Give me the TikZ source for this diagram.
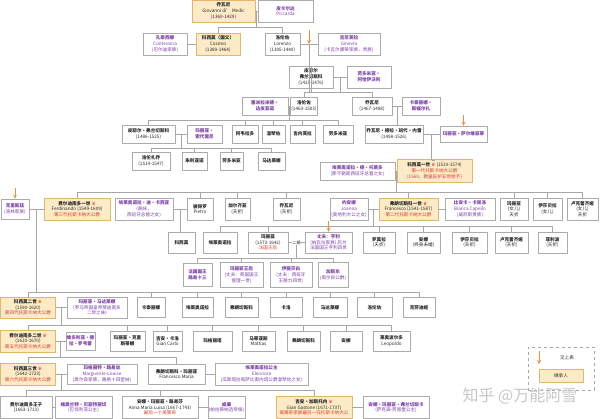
\documentclass[tikz,border=0pt]{standalone}
\usepackage{fontspec}
\setmainfont{Noto Sans CJK SC}
\newfontfamily\symfont{DejaVu Sans}
\usetikzlibrary{calc}
\definecolor{boxgray}{HTML}{ABABAB}
\definecolor{linegray}{HTML}{A6A6A6}
\definecolor{heirfill}{HTML}{FCEBC6}
\definecolor{heirdraw}{HTML}{E2B66E}
\definecolor{spouse}{HTML}{7B3FA8}
\definecolor{medred}{HTML}{E53A2B}
\definecolor{seeorange}{HTML}{E8913A}
\newcommand{\medcrown}{\textcolor{medred}{\symfont ♛}}
\newcommand{\rd}[1]{\textcolor{medred}{#1}}
\begin{document}
\begin{tikzpicture}[x=1pt,y=-1pt,line join=round,>=stealth,
	box/.style={draw=boxgray,fill=white,align=center,inner sep=0.8pt,text=black!85,line width=0.5pt,
		font=\fontsize{4.6}{5.6}\selectfont},
	heir/.style={box,fill=heirfill,draw=heirdraw},
	wife/.style={box,text=spouse},
	wh/.style 2 args={minimum width=#1,minimum height=#2},
	link/.style={draw=linegray,line width=0.5pt},
	see/.style={->,draw=seeorange,line width=0.8pt}]
	\useasboundingbox (0,0) rectangle (600,419);
	% generation 1-4
	\node[heir,wh={63}{22}] (g1) at (223.5,11) {{\bfseries 乔瓦尼}\\Giovanni di' Medic\\(1360-1429)};
	\node[wife,wh={55}{22}] (p1) at (285.5,11) {{\bfseries 皮卡尔达}\\Piccarda};
	\node[wife,wh={44}{22}] (c0) at (165,44) {{\bfseries 孔泰西娜}\\Contessina\\(巴尔迪家族)};
	\node[heir,wh={44}{22}] (co) at (218,44) {{\bfseries 科西莫（国父）}\\Cosimo\\(1389-1464)};
	\node[box,wh={35}{22}] (lo) at (282.5,44) {{\bfseries 洛伦佐}\\Lorenzo\\(1395-1440)};
	\node[wife,wh={62}{22}] (gn) at (349,44) {{\bfseries 吉尼芙拉}\\Ginevra\\(卡瓦尔康蒂家族，贵族)};
	\node[box,wh={44}{22}] (pf) at (311,77) {{\bfseries 皮耶尔}\\{\bfseries 弗兰切斯科}\\(1415-1476)};
	\node[wife,wh={44}{22}] (ld) at (369,77) {{\bfseries 劳多米亚·}\\{\bfseries 阿恰伊沃利}};
	\node[wife,wh={46}{18}] (sm) at (265,106) {{\bfseries 塞米拉米德·}\\{\bfseries 达皮亚诺}};
	\node[box,wh={26}{18}] (lo2) at (304,106) {{\bfseries 洛伦佐}\\(1463-1503)};
	\node[box,wh={40}{18}] (gv) at (372,106) {{\bfseries 乔瓦尼}\\(1467-1498)};
	\node[wife,wh={38}{18}] (cs) at (421,106) {{\bfseries 卡泰丽娜·}\\{\bfseries 斯福尔扎}};
	% generation 5-7
	\node[box,wh={53}{18}] (pf2) at (148.5,134) {{\bfseries 皮耶尔·弗兰切斯科}\\(1486-1525)};
	\node[wife,wh={35}{18}] (ms) at (204.5,134) {{\bfseries 玛丽亚·}\\{\bfseries 索代里尼}};
	\node[box,wh={26}{18}] (av) at (245,134) {\bfseries 阿韦拉多};
	\node[box,wh={23}{18}] (vi) at (273.5,134) {\bfseries 温琴佐};
	\node[box,wh={25}{18}] (gi) at (302.5,134) {\bfseries 吉内芙拉};
	\node[box,wh={30}{18}] (la) at (338,134) {\bfseries 劳多米亚};
	\node[box,wh={58}{18}] (gb) at (394,134) {{\bfseries 乔瓦尼·德拉·班代·内雷}\\(1498-1526)};
	\node[wife,wh={47}{16}] (sa) at (463.5,134) {\bfseries 玛丽亚·萨尔维亚蒂};
	\node[box,wh={38}{18}] (lz) at (151,161) {{\bfseries 洛伦扎乔}\\(1514-1547)};
	\node[box,wh={25}{18}] (ju) at (194.5,161) {\bfseries 朱利亚诺};
	\node[box,wh={23}{18}] (la2) at (231.5,161) {\bfseries 劳多米亚};
	\node[box,wh={27}{18}] (ma) at (271.5,161) {\bfseries 马达莱娜};
	\node[wife,wh={75}{18}] (et) at (357.5,171) {{\bfseries 埃莱奥诺拉·德·托莱多}\\(那不勒斯西班牙总督之女)};
	\node[heir,wh={75}{23}] (c1) at (434.5,171) {{\bfseries 科西莫一世} \medcrown\ (1519-1574)\\\rd{第一代托斯卡纳大公爵}\\\rd{(1569，教皇庇护五世授予)}};
	% generation 8-10
	\node[wife,wh={28}{20}] (kr) at (15,209) {{\bfseries 克里斯廷}\\(洛林家族)};
	\node[heir,wh={66}{22}] (f1) at (77,209) {{\bfseries 费尔迪南多一世} \medcrown\\Ferdinando (1549-1609)\\\rd{第三代托斯卡纳大公爵}};
	\node[wife,wh={58}{22}] (el) at (144,209) {{\bfseries 埃莱奥诺拉·迪·卡西亚}\\(表妹，\\西班牙总督之女)};
	\node[box,wh={26}{22}] (pi) at (200,209) {{\bfseries 彼得罗}\\Pietro};
	\node[box,wh={25}{22}] (ga) at (237.5,209) {{\bfseries 加尔齐亚}\\(夭折)};
	\node[box,wh={27}{22}] (gv2) at (286.5,209) {{\bfseries 乔瓦尼}\\(夭折)};
	\node[wife,wh={38}{22}] (jo) at (349,209) {{\bfseries 约安娜}\\Joanna\\(奥地利大公之女)};
	\node[heir,wh={59}{22}] (fr1) at (408.5,209) {{\bfseries 弗朗切斯科一世} \medcrown\\Francesco (1541-1587)\\\rd{第二代托斯卡纳大公爵}};
	\node[wife,wh={50}{22}] (bc) at (470,209) {{\bfseries 比安卡·卡佩洛}\\Bianca Capello\\(威尼斯贵族)};
	\node[box,wh={28}{22}] (mr) at (514,209) {{\bfseries 玛丽亚}\\(女儿)\\夭折};
	\node[box,wh={29}{22}] (is) at (547.5,209) {{\bfseries 伊莎贝拉}\\(女儿)};
	\node[box,wh={31}{22}] (lu) at (582.5,209) {{\bfseries 卢克蕾齐娅}\\(女儿)\\夭折};
	\node[box,wh={27}{21}] (cs9) at (181.5,242.5) {\bfseries 科西莫};
	\node[box,wh={34}{21}] (el2) at (220,242.5) {\bfseries 埃莱奥诺拉};
	\node[box,wh={40}{21}] (mq) at (268,242.5) {{\bfseries 玛丽亚}\\(1573-1642)\\\rd{法国王后}};
	\node[wife,wh={47}{21}] (hr) at (328.5,242.5) {{\bfseries 丈夫：亨利}\\(纳瓦拉家族) 后为\\法国国王亨利四世};
	\node[box,wh={32}{21}] (ro) at (379,242.5) {{\bfseries 罗莫拉}\\(夭折)};
	\node[box,wh={33}{21}] (an) at (423.5,242.5) {{\bfseries 安娜}\\(终身未婚)};
	\node[box,wh={35}{21}] (is2) at (469.5,242.5) {{\bfseries 伊莎贝拉}\\(夭折)};
	\node[box,wh={33}{21}] (lu2) at (511.5,242.5) {{\bfseries 卢克雷齐娅}\\(夭折)};
	\node[box,wh={29}{21}] (fi) at (552.5,242.5) {{\bfseries 菲利波}\\(夭折)};
	\node[wife,wh={29}{23}] (lx) at (197.5,275) {{\bfseries 法国国王}\\{\bfseries 路易十三}};
	\node[wife,wh={43}{25}] (hm) at (241.5,275) {{\bfseries 玛丽亚王后}\\(丈夫：英国国王\\查理一世)};
	\node[wife,wh={42}{25}] (eb) at (291,275) {{\bfseries 伊丽莎白}\\(丈夫：西班牙\\王腓力四世)};
	\node[wife,wh={30}{25}] (gs) at (333,275) {{\bfseries 加斯东}\\(奥尔良公爵)};
	% generation 11-14
	\node[heir,wh={55}{21}] (c2) at (28,307.5) {{\bfseries 科西莫二世} \medcrown\\(1590-1620)\\\rd{第四代托斯卡纳大公爵}};
	\node[wife,wh={60}{21}] (mm) at (97,307.5) {{\bfseries 玛丽亚·马达莱娜}\\(罗马帝国皇帝斐迪南多\\二世之妹)};
	\node[box,wh={28}{20}] (ct) at (151,307.5) {\bfseries 卡泰丽娜};
	\node[box,wh={31}{20}] (e3) at (197.5,307.5) {\bfseries 埃莱奥诺拉};
	\node[box,wh={33}{20}] (fc) at (241.5,307.5) {\bfseries 弗朗切斯科};
	\node[box,wh={32}{20}] (cl) at (286,307.5) {\bfseries 卡洛};
	\node[box,wh={34}{20}] (md) at (330,307.5) {\bfseries 马达莱娜};
	\node[box,wh={35}{20}] (lr) at (374.5,307.5) {\bfseries 洛伦佐};
	\node[box,wh={32}{20}] (cd) at (419,307.5) {\bfseries 克劳迪娅};
	\node[heir,wh={55}{22}] (f2) at (28,341) {{\bfseries 费尔迪南多二世} \medcrown\\(1610-1670)\\\rd{第五代托斯卡纳大公爵}};
	\node[wife,wh={29}{18}] (vr) at (80.5,341) {{\bfseries 维多利亚·德}\\{\bfseries 拉·罗韦雷}};
	\node[box,wh={35}{20}] (mc) at (127.5,341) {{\bfseries 玛丽亚·克里}\\{\bfseries 斯蒂娜}};
	\node[box,wh={29}{20}] (gc) at (167.5,341) {{\bfseries 吉安·卡洛}\\Gian Carlo};
	\node[box,wh={39}{20}] (mg) at (212.5,341) {\bfseries 玛格丽塔};
	\node[box,wh={33}{20}] (mt) at (258.5,341) {{\bfseries 马蒂亚斯}\\Mattias};
	\node[box,wh={33}{20}] (fc2) at (303.5,341) {\bfseries 弗朗切斯科};
	\node[box,wh={32}{20}] (an2) at (346,341) {\bfseries 安娜};
	\node[box,wh={37}{20}] (le) at (391.5,341) {{\bfseries 莱奥波尔多}\\Leopoldo};
	\node[heir,wh={55}{22}] (c3) at (28,374) {{\bfseries 科西莫三世} \medcrown\\(1642-1723)\\\rd{第六代托斯卡纳大公爵}};
	\node[wife,wh={70}{20}] (mu) at (102,374) {{\bfseries 玛格丽特·路易丝}\\Marguerite-Louise\\(奥尔良家族，路易十四堂妹)};
	\node[box,wh={57}{20}] (fm) at (176.5,374) {{\bfseries 弗朗切斯科·玛丽亚}\\Francesco Maria};
	\node[wife,wh={93}{22}] (eo) at (261.5,374) {{\bfseries 埃莱奥诺拉公主}\\Eleonora\\(瓜斯塔拉和萨比奥内塔公爵温琴佐之女)};
	\node[box,wh={51.5}{22}] (fp) at (26.25,407.5) {{\bfseries 费尔迪南多王子}\\(1663-1713)};
	\node[wife,wh={57}{22}] (vb) at (83.5,407.5) {{\bfseries 维奥兰特·贝亚特丽切}\\(巴伐利亚公主)};
	\node[box,wh={76}{22}] (am) at (160,407.5) {{\bfseries 安娜·玛丽亚·路易莎}\\Anna Maria Luisa (1667-1743)\\\rd{最后一个美第奇}};
	\node[wife,wh={37}{22}] (wi) at (226.5,407.5) {{\bfseries 威廉}\\(帕拉蒂纳选帝侯)};
	\node[heir,wh={76}{22}] (gg) at (314,407.5) {{\bfseries 吉安·加斯托内} \medcrown\\Gian Gastone (1671-1737)\\\rd{美第奇家族最后一任托斯卡纳大公}};
	\node[wife,wh={66}{22}] (af) at (396,407.5) {{\bfseries 安娜·玛丽亚·弗兰切斯卡}\\(萨克森-劳恩堡公主)};
	% marriages
	\foreach \a/\b in {g1/p1,c0/co,lo/gn,pf/ld,sm/lo2,gv/cs,pf2/ms,gb/sa,et/c1,kr/f1,el/pi,jo/fr1,fr1/bc,
		c2/mm,f2/vr,c3/mu,fm/eo,fp/vb,am/wi,gg/af}
		\draw[link] (\a) -- (\b);
	\draw[link] (mq) -- (hr) node[midway,fill=white,inner sep=0.3pt,text=black!85,font=\fontsize{4.2}{4.2}\selectfont] (m9) {二婚};
	% descent: marriage point / bus level / children
	\foreach \a/\b/\y/\kids in {g1/p1/27/{co,lo},lo/gn/92/{pf},pf/ld/92/{lo2,gv},sm/lo2/120/{pf2,av,vi,gi,la},
		gv/cs/125/{gb},pf2/ms/148/{lz,ju,la2,ma},gb/sa/160/{c1},et/c1/192/{f1,pi,ga,gv2,fr1,mr,is,lu},
		el/pi/232/{cs9},jo/fr1/226/{el2,mq,ro,an,is2,lu2,fi},kr/f1/292/{c2,ct,e3,fc,cl,md,lr,cd},
		c2/mm/325/{f2,mc,gc,mg,mt,fc2,an2,le},f2/vr/357/{c3,fm},c3/mu/390/{fp,am,gg}}{
		\coordinate (m) at ($(\a.east)!.5!(\b.west)$);
		\coordinate (bus) at (0,\y);
		\draw[link] (m) -- (m |- bus);
		\foreach \k in \kids {
			\draw[link] (m |- bus) -- (\k.north |- bus) -- (\k.north);
		}
	}
	\coordinate (bus) at (0,258);
	\foreach \k in {lx,hm,eb,gs}
		\draw[link] (m9.south) -- (m9.south |- bus) -- (\k.north |- bus) -- (\k.north);
	% see the table above
	\coordinate (m2) at ($(lo.east)!.5!(gn.west)$);
	\draw[see] ([yshift=14pt]m2) -- (m2);
	\foreach \k in {sa,kr,hr}
		\draw[see] ([yshift=11pt]\k.north) -- (\k.north);
	% legend
	\node[draw=linegray,dashed,line width=0.6pt,wh={66}{43}] (lg) at (561,368.5) {};
	\node[heir,wh={44}{13}] (lh) at (561,375.5) {继承人};
	\node[text=black!85,font=\fontsize{4.6}{4.6}\selectfont] (lt) at (567,357.5) {见上表};
	\coordinate (s1) at (539,351);
	\coordinate (s2) at (539,364);
	\draw[see] (s1) -- (s2);
	\node[text=gray!45,font=\fontsize{16}{16}\selectfont] (wm) at (520,396) {知乎 @万能阿雪};
\end{tikzpicture}
\end{document}
